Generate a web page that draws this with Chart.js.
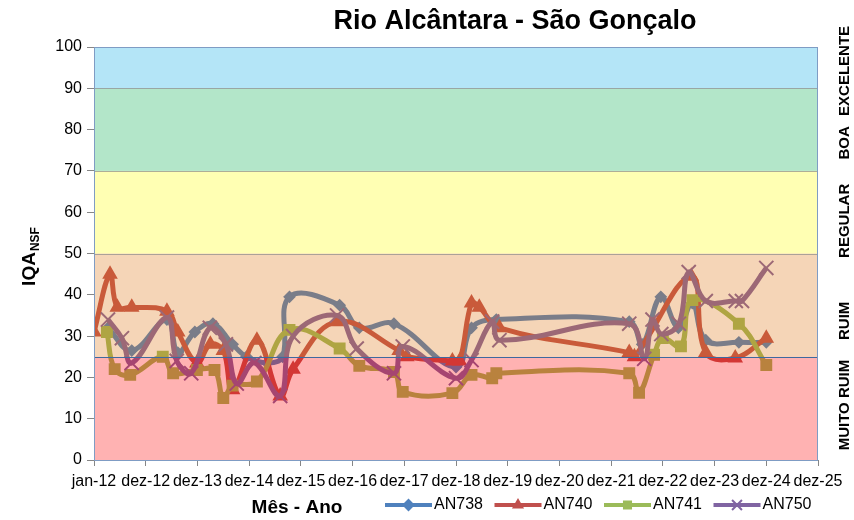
<!DOCTYPE html>
<html>
<head>
	<script src="https://cdn.jsdelivr.net/npm/chart.js@4.4.1/dist/chart.umd.min.js"></script>
	<style>
		body { margin: 0; background: #fff; }
		#wrapper { width: 854px; height: 520px; position: relative; }
	</style>
</head>
<body>
	<div id="wrapper"><canvas id="myChart"></canvas></div>
	<script>
// data (x = decimal year)
var xTickLabels = ['jan-12','dez-12','dez-13','dez-14','dez-15','dez-16','dez-17','dez-18','dez-19','dez-20','dez-21','dez-22','dez-23','dez-24','dez-25'];

var an738X = [2012.27,2012.73,2013.41,2013.62,2013.95,2014.30,2014.68,2014.95,2015.35,2015.65,2015.78,2016.75,2017.13,2017.80,2019.00,2019.30,2019.78,2022.35,2022.60,2022.96,2023.30,2023.57,2023.83,2024.47,2025.00];
var an738Y = [32,26.5,34,26,31,33,28,25,23.5,25,39.5,37.5,32,33,22.5,32,34,33.5,28,39.5,32,38,29,28.5,28.5];

var an740X = [2012.00,2012.31,2012.45,2012.73,2013.41,2013.62,2013.99,2014.25,2014.50,2014.68,2015.15,2015.60,2015.85,2016.70,2017.90,2018.05,2018.93,2019.07,2019.30,2019.45,2019.84,2022.35,2022.45,2023.55,2023.83,2024.40,2025.00];
var an740Y = [31,45,37,37,36,31,23.5,28,26.5,17,29,15.5,22,33.5,26.5,25,24,24,38,37,32,26,25,44.5,26,24.7,29.5];

var an741X = [2012.25,2012.40,2012.70,2013.33,2013.53,2013.99,2014.33,2014.50,2014.68,2015.15,2015.78,2016.75,2017.13,2017.80,2017.97,2018.93,2019.30,2019.70,2019.78,2022.35,2022.54,2022.83,2023.00,2023.35,2023.57,2024.47,2025.00];
var an741Y = [31,22,20.6,25,21,21.8,21.8,15,18,19,31.5,27,22.8,21.3,16.5,16.2,20.6,19.8,21,21,16.3,25.5,29.5,27.5,38.7,33,23];

var an750X = [2012.27,2012.54,2012.73,2013.41,2013.60,2013.88,2014.24,2014.55,2014.76,2015.10,2015.60,2015.85,2016.70,2017.08,2017.80,2017.97,2019.00,2019.30,2019.70,2019.84,2022.35,2022.64,2022.80,2022.97,2023.31,2023.50,2023.83,2024.41,2024.53,2025.00];
var an750Y = [34,29.5,23.5,34.5,24,21,32,28,18.5,23.5,15.5,30,35,27,21,27.5,19.8,24.2,33.5,29,33,24.5,34,30.5,33,45.5,38.5,38.5,38.5,46.5];

var bandLimits = [0,25,50,70,90,100];
var bandLabels = ['MUITO RUIM','RUIM','REGULAR','BOA','EXCELENTE'];
var bandLabelPos = [13.3,33.7,57.9,76.8,94.2];

var bandColors = ['rgba(255,0,0,0.3)','rgba(222,115,15,0.3)','rgba(255,255,2,0.3)','rgba(2,172,75,0.3)','rgba(5,168,228,0.3)'];
var TXT = '#000000';
var FONT = "'Liberation Sans', Arial, sans-serif";

function series(label, xs, ys, color, style, radius, order){
	return {
		label: label,
		data: xs.map(function(x,i){ return {x: x, y: ys[i]}; }),
		borderColor: color,
		backgroundColor: color,
		pointBackgroundColor: color,
		pointBorderColor: color,
		borderWidth: 5,
		pointStyle: style,
		pointRadius: radius,
		pointBorderWidth: 2,
		tension: 0.4,
		order: order
	};
}

var datasets = [
	series('AN738', an738X, an738Y, '#4f81bd', 'rectRot', 5, 4),
	series('AN740', an740X, an740Y, '#c0504d', 'triangle', 7, 3),
	series('AN741', an741X, an741Y, '#9bbb59', 'rect', 7, 2),
	series('AN750', an750X, an750Y, '#8064a2', 'crossRot', 10, 1)
];

var decor = {
	id: 'decor',
	afterDatasetsDraw: function(chart){
		var ctx = chart.ctx, a = chart.chartArea, y = chart.scales.y;
		ctx.save();
		//translucent quality bands laid over the lines
		for (var i = 0; i < bandColors.length; i++) {
			var top = y.getPixelForValue(bandLimits[i+1]);
			var bot = y.getPixelForValue(bandLimits[i]);
			ctx.fillStyle = bandColors[i];
			ctx.fillRect(a.left, top, a.right - a.left, bot - top);
		}
		ctx.lineWidth = 1;
		ctx.strokeStyle = 'rgba(140,140,140,0.7)';
		[50,70,90].forEach(function(v){
			var py = Math.round(y.getPixelForValue(v)) + 0.5;
			ctx.beginPath(); ctx.moveTo(a.left, py); ctx.lineTo(a.right, py); ctx.stroke();
		});
		ctx.strokeStyle = '#3d6a9e';
		var p25 = Math.round(y.getPixelForValue(25)) + 0.5;
		ctx.beginPath(); ctx.moveTo(a.left, p25); ctx.lineTo(a.right, p25); ctx.stroke();
		ctx.strokeStyle = '#7f9cc4';
		ctx.strokeRect(a.left + 0.5, a.top + 0.5, a.right - a.left - 1, a.bottom - a.top);
		ctx.restore();
	},
	afterDraw: function(chart){
		var ctx = chart.ctx, y = chart.scales.y;
		ctx.save();
		ctx.fillStyle = TXT;
		ctx.textAlign = 'center';
		ctx.textBaseline = 'middle';
		// title
		ctx.font = 'bold 27px ' + FONT;
		ctx.fillText('Rio Alcântara - São Gonçalo', 515, 22);
		// x axis title
		ctx.font = 'bold 19px ' + FONT;
		ctx.fillText('Mês - Ano', 297, 508);
		// right side labels
		ctx.font = 'bold 15px ' + FONT;
		bandLabels.forEach(function(t, i){
			ctx.save();
			ctx.translate(845, y.getPixelForValue(bandLabelPos[i]));
			ctx.rotate(-Math.PI/2);
			ctx.fillText(t, 0, 0);
			ctx.restore();
		});
		// y axis title with subscript
		ctx.save();
		ctx.translate(30, 257);
		ctx.rotate(-Math.PI/2);
		ctx.textAlign = 'left';
		ctx.font = 'bold 19px ' + FONT;
		var w1 = ctx.measureText('IQA').width;
		ctx.font = 'bold 12px ' + FONT;
		var w2 = ctx.measureText('NSF').width;
		var sx = -(w1 + w2) / 2;
		ctx.font = 'bold 19px ' + FONT;
		ctx.fillText('IQA', sx, 0);
		ctx.font = 'bold 12px ' + FONT;
		ctx.fillText('NSF', sx + w1 + 1, 6);
		ctx.restore();
		// legend
		var lx = 385, ly = 505;
		chart.data.datasets.forEach(function(ds, i){
			var x0 = lx + i * 109.5;
			ctx.strokeStyle = ds.borderColor;
			ctx.fillStyle = ds.borderColor;
			ctx.lineWidth = 4;
			ctx.beginPath(); ctx.moveTo(x0, ly); ctx.lineTo(x0 + 47, ly); ctx.stroke();
			ctx.lineWidth = 2;
			Chart.helpers.drawPoint(ctx, {pointStyle: ds.pointStyle, radius: ds.pointStyle === 'crossRot' ? 7 : 5, borderWidth: 2}, x0 + 23.5, ly);
			ctx.fillStyle = TXT;
			ctx.textAlign = 'left';
			ctx.font = '16px ' + FONT;
			ctx.fillText(ds.label, x0 + 49, ly);
		});
		ctx.restore();
	}
};

var ctx = document.getElementById('myChart');
var myChart = new Chart(ctx, {
	type: 'line',
	data: { datasets: datasets },
	options: {
		responsive: true,
		maintainAspectRatio: false,
		animation: false,
		layout: { padding: { left: 0, right: 36, top: 47, bottom: 0 } },
		plugins: {
			legend: { display: false },
			title: { display: false },
			tooltip: { enabled: false }
		},
		scales: {
			x: {
				type: 'linear',
				min: 2012,
				max: 2026,
				ticks: {
					stepSize: 1,
					autoSkip: false,
					maxRotation: 0,
					color: TXT,
					padding: 6,
					font: { family: FONT, size: 16 },
					callback: function(v){ return xTickLabels[Math.round(v - 2012)]; }
				},
				grid: { drawOnChartArea: false, tickLength: 6, color: '#868686' },
				border: { color: '#868686' },
				afterFit: function(s){ s.height = 60; }
			},
			y: {
				min: 0,
				max: 100,
				ticks: {
					stepSize: 10,
					color: TXT,
					padding: 5,
					font: { family: FONT, size: 16 }
				},
				grid: { drawOnChartArea: false, tickLength: 7, color: '#868686' },
				border: { color: '#868686' },
				afterFit: function(s){ s.width = 94; }
			}
		}
	},
	plugins: [decor]
});
	</script>
</body>
</html>
